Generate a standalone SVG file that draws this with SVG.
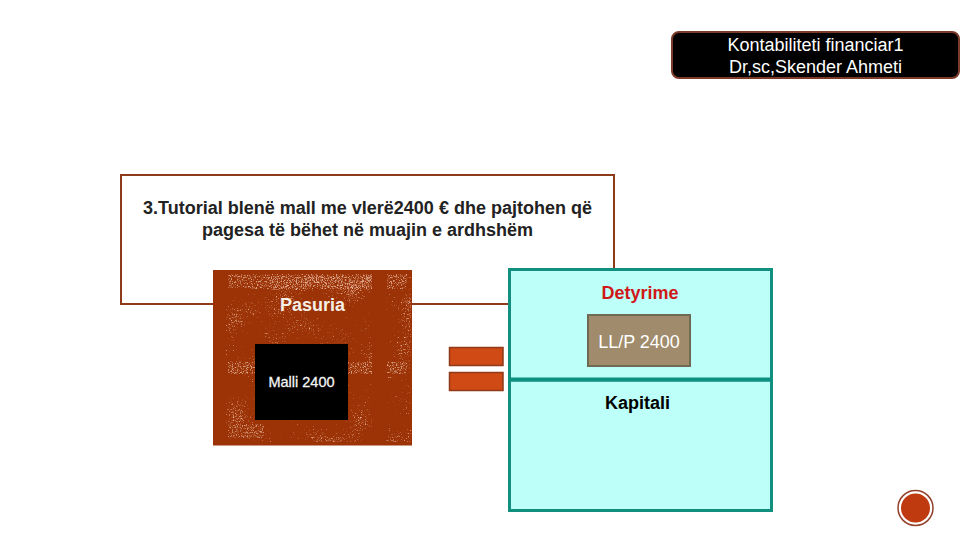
<svg xmlns="http://www.w3.org/2000/svg" width="960" height="540" viewBox="0 0 960 540">
<defs>
<style>
text{font-family:"Liberation Sans",Arial,sans-serif;text-anchor:middle}
.b{font-weight:bold}
.teal{fill:#bdfff9;stroke:#12907f;stroke-width:3}
.eq{fill:#d04a16;stroke:#8f3a18;stroke-width:1.5}
</style>
<filter id="noise" x="0" y="0" width="100%" height="100%" color-interpolation-filters="sRGB">
<feTurbulence type="fractalNoise" baseFrequency="0.75" numOctaves="2" seed="11" result="f"/>
<feTurbulence type="fractalNoise" baseFrequency="0.03" numOctaves="2" seed="5" result="c"/>
<feComposite in="f" in2="c" operator="arithmetic" k1="0" k2="0.7" k3="0.5" k4="0"/>
<feColorMatrix values="0 0 0 0 0.90  0 0 0 0 0.68  0 0 0 0 0.58  6 0 0 0 -3.6"/>
<feGaussianBlur stdDeviation="0.3"/>
</filter>
<filter id="noise2" x="0" y="0" width="100%" height="100%" color-interpolation-filters="sRGB">
<feTurbulence type="fractalNoise" baseFrequency="0.8" numOctaves="2" seed="3"/>
<feColorMatrix values="0 0 0 0 0.93  0 0 0 0 0.78  0 0 0 0 0.70  5 0 0 0 -2.5"/>
<feGaussianBlur stdDeviation="0.4"/>
</filter>
</defs>
<rect width="960" height="540" fill="#fff"/>
<g id="header">
<rect x="672" y="32" width="287" height="46" rx="7" fill="#000" stroke="#7c3a28" stroke-width="2"/>
<text x="815.500" y="50.500" font-size="18" fill="#fff">Kontabiliteti financiar1</text>
<text x="815.500" y="73" font-size="18" fill="#fff">Dr,sc,Skender Ahmeti</text>
</g>
<g id="title">
<rect x="121" y="175" width="493" height="129" fill="#fff" stroke="#8f3a18" stroke-width="2"/>
<text class="b" x="367.500" y="214" font-size="18" fill="#222">3.Tutorial blenë mall me vlerë2400 € dhe pajtohen që</text>
<text class="b" x="367.500" y="235.500" font-size="18" fill="#222">pagesa të bëhet në muajin e ardhshëm</text>
</g>
<g id="pasuria">
<rect x="213" y="270" width="199" height="175.500" fill="#9c3306"/>
<rect x="226" y="276" width="146" height="166" filter="url(#noise)"/>
<rect x="385" y="276" width="26" height="166" filter="url(#noise)"/>
<rect x="228" y="274" width="144" height="15" filter="url(#noise2)" opacity="0.75"/>
<rect x="387" y="274" width="20" height="15" filter="url(#noise2)" opacity="0.75"/>
<rect x="228" y="362" width="144" height="12" filter="url(#noise2)" opacity="0.75"/>
<rect x="387" y="362" width="20" height="12" filter="url(#noise2)" opacity="0.75"/>
<rect x="228" y="424" width="36" height="14" filter="url(#noise2)" opacity="0.6"/>
<text class="b" x="312.500" y="310.500" font-size="18" fill="#f6efe6">Pasuria</text>
</g>
<g id="malli">
<rect x="255" y="344" width="93" height="76" fill="#000"/>
<text x="301.500" y="387" font-size="14.500" fill="#f4f4f4" stroke="#f4f4f4" stroke-width="0.300">Malli 2400</text>
</g>
<g id="equals">
<rect x="449.500" y="347.500" width="53.500" height="18" class="eq"/>
<rect x="449.500" y="372.500" width="53.500" height="18" class="eq"/>
</g>
<g id="detyrime">
<rect x="509.500" y="269.500" width="262" height="110" class="teal"/>
<text class="b" x="640" y="298.500" font-size="18" fill="#d01818">Detyrime</text>
</g>
<g id="kapitali">
<rect x="509.500" y="380" width="262" height="130.500" class="teal"/>
<line x1="509" y1="379.500" x2="772" y2="379.500" stroke="#0c9080" stroke-width="4"/>
<text class="b" x="637.500" y="408.500" font-size="18" fill="#000">Kapitali</text>
</g>
<g id="llp">
<rect x="588" y="315" width="102" height="51" fill="#a08c6c" stroke="#6f6a52" stroke-width="2"/>
<text x="639" y="348" font-size="18" fill="#fff">LL/P 2400</text>
</g>
<g id="badge">
<circle cx="915.500" cy="508" r="17.500" fill="#fff" stroke="#93402a" stroke-width="1.500"/>
<circle cx="915.500" cy="508" r="14.500" fill="#c03a10"/>
</g>
</svg>
